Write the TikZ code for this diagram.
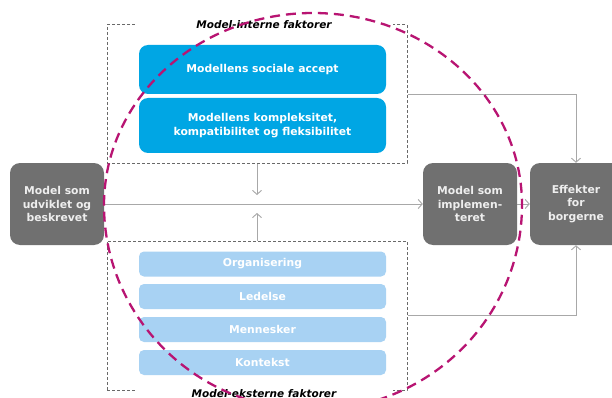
\documentclass[tikz,border=0pt]{standalone}
\usepackage{fontspec}
\setmainfont{DejaVu Sans}
\usetikzlibrary{arrows.meta}
\definecolor{boxgray}{RGB}{112,112,112}
\definecolor{boxtext}{RGB}{238,238,238}
\definecolor{dkblue}{RGB}{0,166,228}
\definecolor{ltblue}{RGB}{168,210,243}
\definecolor{framegray}{RGB}{105,105,105}
\definecolor{linegray}{RGB}{168,168,168}
\definecolor{magline}{RGB}{184,20,114}
\begin{document}
\begin{tikzpicture}[x=1pt,y=-1pt,
  font=\bfseries\fontsize{10.8}{13.8}\selectfont,
  graybox/.style={rectangle, rounded corners=10pt, fill=boxgray, text=boxtext,
    align=center, minimum width=94pt, minimum height=82pt, inner sep=0pt},
  bluebox/.style={rectangle, rounded corners=9pt, fill=dkblue, text=white,
    align=center, minimum width=247pt, inner sep=0pt},
  lightbox/.style={rectangle, rounded corners=5pt, fill=ltblue, text=white,
    minimum width=247pt, minimum height=25pt, inner sep=0pt},
  frame/.style={rectangle, draw=framegray, dash pattern=on 3pt off 2pt,
    line width=1pt, inner sep=0pt},
  grouplabel/.style={fill=white, font=\bfseries\itshape\fontsize{10.5}{12}\selectfont,
    text=black, minimum width=258pt, inner sep=1pt},
  conn/.style={draw=linegray, line width=0.9pt,
    -{Straight Barb[length=4pt,width=9pt]}},
  magdash/.style={draw=magline, line width=2.3pt, dash pattern=on 10pt off 6pt}]

\useasboundingbox (0,0) rectangle (612,398);
\fill[white] (0,0) rectangle (612,398);

% factor groups
\node[frame, minimum width=300pt, minimum height=138pt] (intbox) at (257,94) {};
\node[frame, minimum width=300pt, minimum height=149pt] (extbox) at (257,315.5) {};
\node[grouplabel] (intlbl) at (264,25) {Model-interne faktorer};
\node[grouplabel] (extlbl) at (264,394) {Model-eksterne faktorer};

\node[bluebox, minimum height=49pt] (soc) at (262.5,69.5) {Modellens sociale accept};
\node[bluebox, minimum height=55pt] (komp) at (262.5,125.5)
  {Modellens kompleksitet,\\kompatibilitet og fleksibilitet};

\node[lightbox] (org) at (262.5,264) {Organisering};
\node[lightbox] (led) at (262.5,296.5) {Ledelse};
\node[lightbox] (men) at (262.5,329.5) {Mennesker};
\node[lightbox] (kon) at (262.5,362.5) {Kontekst};

% model stages
\node[graybox] (left) at (57,204) {Model som\\udviklet og\\beskrevet};
\node[graybox] (mid) at (470,204) {Model som\\implemen-\\teret};
\node[graybox, minimum width=92pt] (eff) at (576,204) {Effekter\\for\\borgerne};

% connectors
\coordinate (dtip) at (257,195);
\coordinate (utip) at (257,213);
\draw[conn] (left.east) -- (mid.west);
\draw[conn] (intbox.south) -- (dtip);
\draw[conn] (extbox.north) -- (utip);
\draw[conn] (mid.east) -- (eff.west);
\draw[conn] (intbox.east) -| (eff.north);
\draw[conn] (extbox.east) -| (eff.south);

% implementation boundary
\draw[magdash] (104,205) arc[start angle=180, end angle=0, x radius=209pt, y radius=192pt]
  arc[start angle=0, end angle=-180, x radius=209pt, y radius=205pt];
\end{tikzpicture}
\end{document}
